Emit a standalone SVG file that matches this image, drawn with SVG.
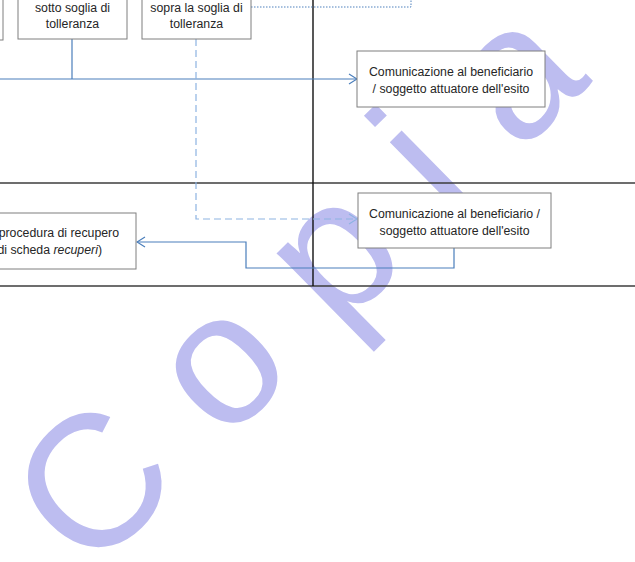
<svg xmlns="http://www.w3.org/2000/svg" width="635" height="562" viewBox="0 0 635 562">
  <defs>
    <style>
      .box { fill: #ffffff; stroke: #7f7f7f; stroke-width: 1; }
      .lbl { font-family: "Liberation Sans", Arial, sans-serif; font-size: 12.3px; fill: #262626; text-anchor: middle; }
      .lane { stroke: #3c3c3c; stroke-width: 1.6; fill: none; }
      .solid { stroke: #4a7ebb; stroke-width: 1.2; fill: none; }
      .dashed { stroke: #8db3e2; stroke-width: 1.2; fill: none; stroke-dasharray: 7 4; }
      .dotted { stroke: #4f81bd; stroke-width: 1; fill: none; stroke-dasharray: 1.5 1.5; }
      .wm { font-family: "Liberation Sans", Arial, sans-serif; font-size: 188px; fill: #bdbdf0; letter-spacing: 54px; }
    </style>
    <marker id="arrSolid" viewBox="0 0 10 12" refX="9" refY="6" markerWidth="10" markerHeight="12" markerUnits="userSpaceOnUse" orient="auto">
      <polyline points="1,1 9,6 1,11" fill="none" stroke="#4a7ebb" stroke-width="1.2"/>
    </marker>
    <marker id="arrDashed" viewBox="0 0 10 12" refX="9" refY="6" markerWidth="10" markerHeight="12" markerUnits="userSpaceOnUse" orient="auto">
      <polyline points="1,1 9,6 1,11" fill="none" stroke="#8db3e2" stroke-width="1.2"/>
    </marker>
  </defs>

  <rect x="0" y="0" width="635" height="562" fill="#ffffff"/>

  <!-- watermark -->
  <g id="watermark">
    <text class="wm" transform="translate(89,577) rotate(-44.5)" x="0" y="0">Copia</text>
  </g>

  <!-- swimlane rules -->
  <g id="lanes">
    <line class="lane" x1="0" y1="183" x2="635" y2="183"/>
    <line class="lane" x1="0" y1="286" x2="635" y2="286"/>
    <line x1="313" y1="0" x2="313" y2="286" stroke="#111111" stroke-width="1.4"/>
  </g>

  <!-- connectors -->
  <g id="connectors">
    <polyline class="dotted" points="251,7 411,7 411,0"/>
    <polyline class="solid" points="72,39 72,79"/>
    <polyline class="solid" points="0,79 357,79" marker-end="url(#arrSolid)"/>
    <polyline class="dashed" points="196,39 196,219 357,219" marker-end="url(#arrDashed)"/>
    <polyline class="solid" points="454,248 454,268 246,268 246,242 137,242" marker-end="url(#arrSolid)"/>
  </g>

  <!-- nodes -->
  <g id="node-left-cut">
    <rect class="box" x="-20" y="-10" width="23" height="50"/>
  </g>

  <g id="node-sotto">
    <rect class="box" x="18" y="-10" width="109" height="49"/>
    <text class="lbl" x="72.5" y="12">sotto soglia di</text>
    <text class="lbl" x="72.5" y="28">tolleranza</text>
  </g>

  <g id="node-sopra">
    <rect class="box" x="142" y="-10" width="109" height="49"/>
    <text class="lbl" x="196.5" y="12">sopra la soglia di</text>
    <text class="lbl" x="196.5" y="28">tolleranza</text>
  </g>

  <g id="node-comunicazione-1">
    <rect class="box" x="357" y="51" width="188" height="56"/>
    <text class="lbl" x="451" y="76">Comunicazione al beneficiario</text>
    <text class="lbl" x="451" y="93">/ soggetto attuatore dell'esito</text>
  </g>

  <g id="node-comunicazione-2">
    <rect class="box" x="358" y="193" width="193" height="55"/>
    <text class="lbl" x="454.5" y="218">Comunicazione al beneficiario /</text>
    <text class="lbl" x="454.5" y="235">soggetto attuatore dell'esito</text>
  </g>

  <g id="node-recupero">
    <rect class="box" x="-20" y="213" width="156" height="56"/>
    <text class="lbl" x="119" y="237" style="text-anchor:end">procedura di recupero</text>
    <text class="lbl" x="102" y="254" style="text-anchor:end">di scheda <tspan font-style="italic">recuperi</tspan>)</text>
  </g>
</svg>
